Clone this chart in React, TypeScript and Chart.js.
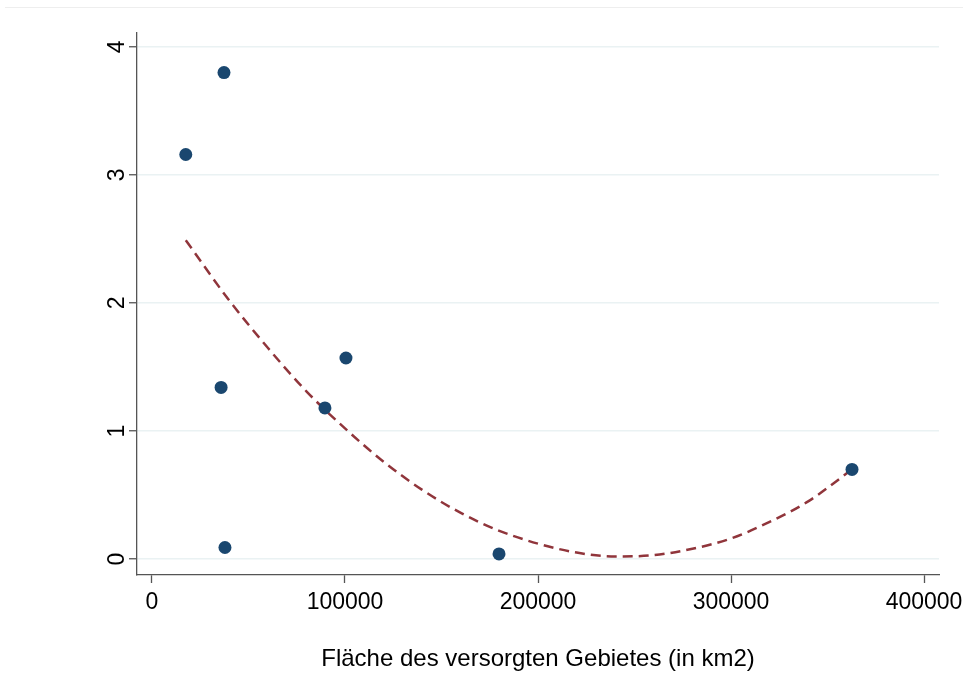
import React, { useEffect, useRef } from "react";
import { Chart, registerables } from "chart.js";

Chart.register(...registerables);

// Scatter observations (area in km2, value)
const areaKm2 = [17500, 37300, 35800, 37800, 89600, 100500, 179800, 362700];
const values = [3.16, 3.80, 1.34, 0.09, 1.18, 1.57, 0.04, 0.70];

// Fitted (quadratic) line
const fitX = [17500, 40000, 60000, 80000, 100000, 120000, 140000, 160000, 180000, 200000, 220000, 240000, 260000, 280000, 300000, 320000, 340000, 362700];
const fitY = [2.49, 2.02, 1.65, 1.31, 1.02, 0.76, 0.54, 0.36, 0.22, 0.12, 0.05, 0.02, 0.03, 0.08, 0.16, 0.29, 0.45, 0.70];

const xTicks = [0, 100000, 200000, 300000, 400000];
const yTicks = [0, 1, 2, 3, 4];
const xTitle = "Fläche des versorgten Gebietes (in km2)";

const FONT = '"Liberation Sans", Arial, Helvetica, sans-serif';

const topLinePlugin = {
  id: "topLine",
  beforeDraw(chart: any) {
    const ctx = chart.ctx;
    ctx.save();
    ctx.fillStyle = "#ffffff";
    ctx.fillRect(0, 0, chart.width, chart.height);
    ctx.strokeStyle = "#eeeeee";
    ctx.lineWidth = 1;
    ctx.beginPath();
    ctx.moveTo(5, 7.5);
    ctx.lineTo(chart.width, 7.5);
    ctx.stroke();
    ctx.restore();
  },
};

export default function App() {
  const ref = useRef<HTMLCanvasElement | null>(null);

  useEffect(() => {
    if (!ref.current) return;
    const chart = new Chart(ref.current, {
      type: "scatter",
      data: {
        datasets: [
          {
            type: "line",
            data: fitX.map((x, i) => ({ x, y: fitY[i] })),
            borderColor: "#90353B",
            borderWidth: 2.5,
            borderDash: [10, 6],
            pointRadius: 0,
            fill: false,
            cubicInterpolationMode: "monotone",
            order: 2,
          } as any,
          {
            type: "scatter",
            data: areaKm2.map((x, i) => ({ x, y: values[i] })),
            backgroundColor: "#1A476F",
            borderColor: "#1A476F",
            pointRadius: 6.5,
            pointBorderWidth: 0,
            order: 1,
          },
        ],
      },
      options: {
        animation: false,
        responsive: false,
        maintainAspectRatio: false,
        layout: { padding: { top: 33, right: 24, left: 0, bottom: 0 } },
        plugins: { legend: { display: false }, tooltip: { enabled: false } },
        scales: {
          x: {
            type: "linear",
            min: -7772,
            max: 407772,
            afterBuildTicks: (s: any) => {
              s.ticks = xTicks.map((v) => ({ value: v }));
            },
            afterFit: (s: any) => {
              s.height = 119;
              s.paddingRight = 0;
              s.paddingLeft = 0;
            },
            ticks: {
              includeBounds: false,
              color: "#000000",
              font: { family: FONT, size: 23 },
              padding: 6,
              maxRotation: 0,
              callback: (v: any) => String(v),
            },
            border: { display: true, color: "#555555", width: 1.3 },
            grid: {
              display: true,
              drawOnChartArea: false,
              drawTicks: true,
              tickLength: 8,
              tickWidth: 1.3,
              tickColor: "#555555",
            },
            title: {
              display: true,
              text: xTitle,
              color: "#000000",
              font: { family: FONT, size: 24 },
              padding: { top: 0, bottom: 20 },
            },
          },
          y: {
            type: "linear",
            min: -0.125,
            max: 4.109,
            afterBuildTicks: (s: any) => {
              s.ticks = yTicks.map((v) => ({ value: v }));
            },
            afterFit: (s: any) => {
              s.width = 137;
            },
            ticks: {
              includeBounds: false,
              color: "#000000",
              font: { family: FONT, size: 23 },
              padding: 5,
              minRotation: 90,
              maxRotation: 90,
              crossAlign: "center",
              callback: (v: any) => String(v),
            },
            border: { display: true, color: "#555555", width: 1.3 },
            grid: {
              display: true,
              color: "#EAF2F3",
              lineWidth: 1.5,
              drawTicks: true,
              tickLength: 8,
              tickWidth: 1.3,
              tickColor: "#555555",
            },
          },
        },
      },
      plugins: [topLinePlugin],
    });
    return () => chart.destroy();
  }, []);

  return (
    <div style={{ position: "fixed", left: 0, top: 0, width: "963px", height: "694px", background: "#fff" }}>
      <canvas ref={ref} width={963} height={694} style={{ width: "963px", height: "694px", display: "block" }} />
    </div>
  );
}
